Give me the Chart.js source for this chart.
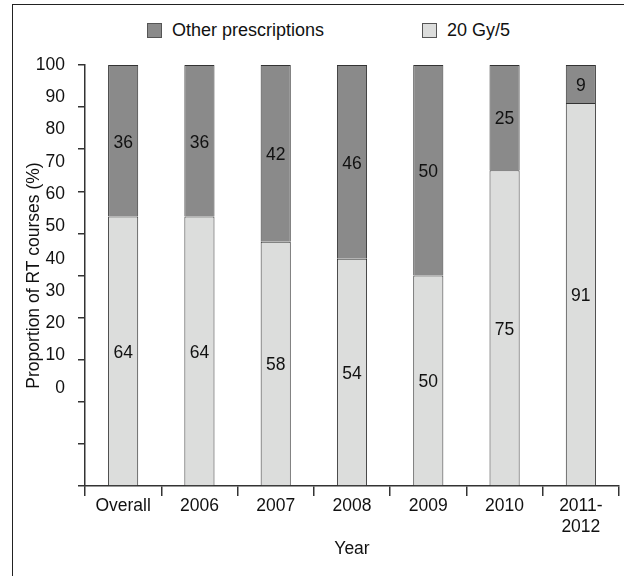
<!DOCTYPE html>
<html lang="en">
<head>
    <meta charset="UTF-8">
    <title>Proportion of RT courses</title>
    <script src="https://cdn.jsdelivr.net/npm/chart.js"></script>
    <style>
        body { margin: 0; background: #fff; font-family: "Liberation Sans", Arial, sans-serif; }
        #wrap { position: relative; width: 624px; height: 576px; overflow: hidden; }
        #frame { position: absolute; left: 12px; top: 4px; width: 700px; height: 700px;
                 border-left: 1.5px solid #222; border-top: 1.5px solid #222; }
        #legend { position: absolute; top: 20px; left: 147px; display: flex; color: #111; font-size: 18px; }
        #legend .item { display: flex; align-items: center; }
        #legend .item + .item { margin-left: 98px; }
        #legend .box { width: 13px; height: 13px; border: 1px solid #555; margin-right: 10px; }
        canvas { position: absolute; left: 0; top: 0; }
    </style>
</head>
<body>
    <div id="wrap">
        <div id="frame"></div>
        <div id="legend"></div>
        <canvas id="rtChart"></canvas>
    </div>

    <script>
        const categories = ['Overall', '2006', '2007', '2008', '2009', '2010', ['2011-', '2012']];
        const gy20 = [64, 64, 58, 54, 50, 75, 91];
        const other = [36, 36, 42, 46, 50, 25, 9];
        const tickLabels = [0, 10, 20, 30, 40, 50, 60, 70, 80, 90, 100];

        const font = { family: '"Liberation Sans", Arial, sans-serif', size: 17.5 };
        const ink = '#111';
        const lineCol = '#333';

        // labels written inside each bar segment
        const segmentLabels = {
            id: 'segmentLabels',
            afterDatasetsDraw(chart) {
                const ctx = chart.ctx;
                ctx.save();
                ctx.font = '17.5px "Liberation Sans", Arial, sans-serif';
                ctx.fillStyle = ink;
                ctx.textAlign = 'center';
                ctx.textBaseline = 'middle';
                chart.data.datasets.forEach((ds, i) => {
                    chart.getDatasetMeta(i).data.forEach((bar, j) => {
                        const mid = (bar.y + bar.base) / 2;
                        ctx.fillText(ds.data[j], bar.x, mid + 2);
                    });
                });
                ctx.restore();
            }
        };

        const chart = new Chart(document.getElementById('rtChart'), {
            type: 'bar',
            data: {
                labels: categories,
                datasets: [
                    {
                        label: '20 Gy/5',
                        data: gy20,
                        backgroundColor: '#dcdddc',
                        borderColor: lineCol,
                        borderWidth: 1,
                        barPercentage: 0.395,
                        categoryPercentage: 1
                    },
                    {
                        label: 'Other prescriptions',
                        data: other,
                        backgroundColor: '#8a8a8a',
                        borderColor: lineCol,
                        borderWidth: 1,
                        barPercentage: 0.395,
                        categoryPercentage: 1
                    }
                ]
            },
            options: {
                responsive: true,
                maintainAspectRatio: false,
                animation: false,
                layout: { padding: { top: 65, left: 16, right: 5, bottom: 12 } },
                plugins: {
                    legend: { display: false },
                    tooltip: { enabled: false }
                },
                scales: {
                    x: {
                        stacked: true,
                        grid: { drawOnChartArea: false, tickLength: 10, color: lineCol, lineWidth: 1.5, offset: true },
                        border: { color: lineCol, width: 1.5 },
                        ticks: { font: font, color: ink, padding: 0, maxRotation: 0 },
                        title: { display: true, text: 'Year', font: font, color: ink, padding: { top: 1, bottom: 4 } }
                    },
                    y: {
                        stacked: true,
                        min: 0,
                        max: 100,
                        weight: 0,
                        ticks: { display: false, stepSize: 10 },
                        grid: { drawOnChartArea: false, tickLength: 7, color: lineCol, lineWidth: 1.5 },
                        border: { color: lineCol, width: 1.5 }
                    },
                    // the printed tick labels sit on their own, tighter spacing
                    yLabels: {
                        position: 'left',
                        weight: 1,
                        min: -30.4,
                        max: 100,
                        afterBuildTicks: (axis) => {
                            axis.ticks = tickLabels.map(v => ({ value: v }));
                        },
                        afterFit: (axis) => {
                            axis.width = 62;
                        },
                        grid: { display: false },
                        border: { display: false },
                        ticks: { font: font, color: ink, padding: 5 },
                        title: {
                            display: true,
                            text: 'Proportion of RT courses (%)',
                            font: font,
                            color: ink,
                            padding: { top: 8, bottom: 0 }
                        }
                    }
                }
            },
            plugins: [segmentLabels]
        });

        // legend in the order the figure shows it
        const legendEl = document.getElementById('legend');
        chart.data.datasets.slice().reverse().forEach(ds => {
            const item = document.createElement('div');
            item.className = 'item';
            item.innerHTML = `<span class="box" style="background:${ds.backgroundColor}"></span><span>${ds.label}</span>`;
            legendEl.appendChild(item);
        });
    </script>
</body>
</html>
